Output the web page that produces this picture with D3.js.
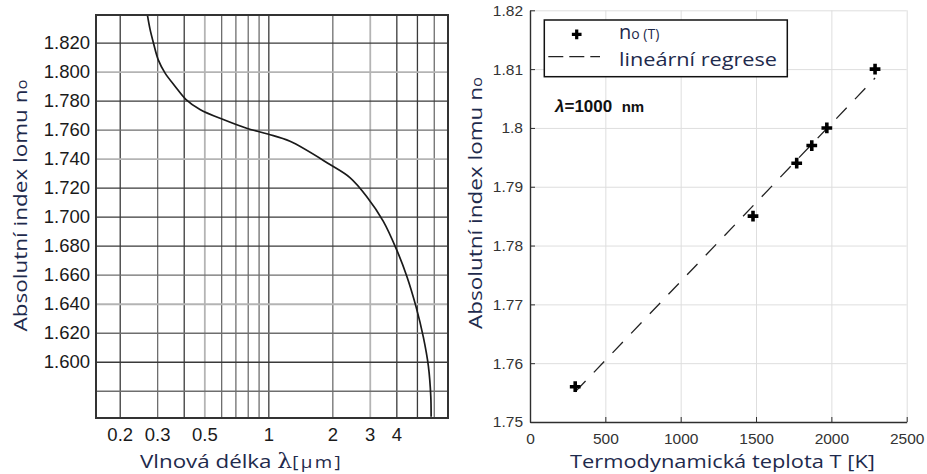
<!DOCTYPE html>
<html>
<head>
<meta charset="utf-8">
<script src="https://cdn.jsdelivr.net/npm/d3@7"></script>
<style>
  body { margin: 0; background: #fff; }
  svg { display: block; }
</style>
</head>
<body>
<svg id="chart" width="927" height="474"></svg>
<script>
// ---- Left panel: ordinary refractive index n_o versus wavelength ----
const wavelengthUm = [0.270, 0.278, 0.288, 0.304, 0.327, 0.364, 0.409, 0.477, 0.614, 0.791,
                      0.994, 1.265, 1.95, 2.42, 2.90, 3.47, 4.02, 4.48, 4.95, 5.36, 5.66, 5.81, 5.83];
const indexNo      = [1.839, 1.829, 1.820, 1.808, 1.799, 1.790, 1.781, 1.774, 1.767, 1.761,
                      1.757, 1.752, 1.736, 1.727, 1.714, 1.697, 1.677, 1.659, 1.638, 1.617, 1.597, 1.576, 1.562];
const wavelengthTicks = [0.2, 0.3, 0.5, 1, 2, 3, 4];
const wavelengthGrid  = [0.2, 0.3, 0.4, 0.5, 0.6, 0.7, 0.8, 0.9, 1, 2, 3, 4, 5, 6];
const indexTicks = [1.600, 1.620, 1.640, 1.660, 1.680, 1.700, 1.720, 1.740, 1.760, 1.780, 1.800, 1.820];
const indexGrid  = [1.580, 1.600, 1.620, 1.640, 1.660, 1.680, 1.700, 1.720, 1.740, 1.760, 1.780, 1.800, 1.820];

// ---- Right panel: n_o at 1000 nm versus temperature ----
const temperatureK = [300, 1480, 1770, 1870, 1970, 2290];
const indexAtT     = [1.756, 1.785, 1.794, 1.797, 1.800, 1.810];
const temperatureTicks = [0, 500, 1000, 1500, 2000, 2500];
const indexTTicks = [1.75, 1.76, 1.77, 1.78, 1.79, 1.80, 1.81, 1.82];

const svg = d3.select("#chart");
const titleColor = "#1e2a4c";
const tickFont = "'Liberation Sans', Arial, sans-serif";
const titleFont = "'Open Sans', 'Noto Sans', sans-serif";

// ================= LEFT PANEL =================
const L = { x0: 96, x1: 448, y0: 15, y1: 418 };
const xL = d3.scaleLog().domain([0.1547, 7.0]).range([L.x0, L.x1]);
const yL = d3.scaleLinear().domain([1.5612, 1.8391]).range([L.y1, L.y0]);

// grid line tones of the printed graph paper
const darkV = new Set([0.2, 0.4, 1, 4, 5]);
const lightV = new Set([0.5, 3]);
const darkH = new Set([1.82, 1.78, 1.72, 1.70, 1.68, 1.60]);
const lightH = new Set([1.80, 1.74, 1.64]);
function tone(isDark, isLight) {
  if (isDark) return { c: "#3a3a3a", w: 1.3 };
  if (isLight) return { c: "#b4b4b4", w: 1.8 };
  return { c: "#6e6e6e", w: 1.3 };
}

const left = svg.append("g");

const gridV = left.append("g")
  .attr("transform", `translate(0,${L.y1})`)
  .call(d3.axisBottom(xL).tickValues(wavelengthGrid).tickSize(-(L.y1 - L.y0)).tickFormat(""));
gridV.select(".domain").remove();
gridV.selectAll(".tick line").each(function (d) {
  const t = tone(darkV.has(d), lightV.has(d));
  d3.select(this).attr("stroke", t.c).attr("stroke-width", t.w);
});

const gridH = left.append("g")
  .attr("transform", `translate(${L.x0},0)`)
  .call(d3.axisLeft(yL).tickValues(indexGrid).tickSize(-(L.x1 - L.x0)).tickFormat(""));
gridH.select(".domain").remove();
gridH.selectAll(".tick line").each(function (d) {
  const k = Math.round(d * 100) / 100;
  const t = tone(darkH.has(k), lightH.has(k));
  d3.select(this).attr("stroke", t.c).attr("stroke-width", t.w);
});

// dispersion curve
left.append("clipPath").attr("id", "clipL")
  .append("rect").attr("x", L.x0).attr("y", L.y0).attr("width", L.x1 - L.x0).attr("height", L.y1 - L.y0);
const curvePts = wavelengthUm.map((w, i) => [w, indexNo[i]]);
left.append("path")
  .datum(curvePts)
  .attr("clip-path", "url(#clipL)")
  .attr("fill", "none")
  .attr("stroke", "#1a1a1a")
  .attr("stroke-width", 1.7)
  .attr("d", d3.line().x(d => xL(d[0])).y(d => yL(d[1])).curve(d3.curveCatmullRom.alpha(0.5)));

// frame
left.append("rect")
  .attr("x", L.x0).attr("y", L.y0).attr("width", L.x1 - L.x0).attr("height", L.y1 - L.y0)
  .attr("fill", "none").attr("stroke", "#333").attr("stroke-width", 2);

// tick labels
const xLab = left.append("g")
  .attr("transform", `translate(0,${L.y1})`)
  .call(d3.axisBottom(xL).tickValues(wavelengthTicks).tickSize(0).tickPadding(9.6).tickFormat(d => String(d)));
xLab.select(".domain").remove();
xLab.selectAll("text").attr("font-family", tickFont).attr("font-size", 18.5).attr("fill", "#1a1a1a");

const yLab = left.append("g")
  .attr("transform", `translate(${L.x0},0)`)
  .call(d3.axisLeft(yL).tickValues(indexTicks).tickSize(0).tickPadding(6).tickFormat(d3.format(".3f")));
yLab.select(".domain").remove();
yLab.selectAll("text").attr("font-family", tickFont).attr("font-size", 18.5).attr("fill", "#1a1a1a");

// axis titles
const xtL = left.append("text")
  .attr("x", 140).attr("y", 468)
  .attr("font-family", titleFont).attr("font-size", 19).attr("fill", titleColor)
  .attr("textLength", 203).attr("lengthAdjust", "spacingAndGlyphs");
xtL.append("tspan").text("Vlnová délka ");
xtL.append("tspan").attr("font-family", "'DejaVu Serif', serif").attr("font-size", 20).text("λ");
xtL.append("tspan").attr("font-size", 16).attr("letter-spacing", 2).text("[μm]");

function yTitle(g, x, cy) {
  const t = g.append("text")
    .attr("transform", `translate(${x},${cy}) rotate(-90)`)
    .attr("text-anchor", "middle")
    .attr("font-family", titleFont).attr("font-size", 19).attr("fill", titleColor)
    .attr("textLength", 252).attr("lengthAdjust", "spacingAndGlyphs");
  t.append("tspan").text("Absolutní index lomu n");
  t.append("tspan").attr("font-size", 14).text("o");
}
yTitle(left, 27, 205.5);

// ================= RIGHT PANEL =================
const R = { x0: 530, x1: 906.7, y0: 10.3, y1: 422 };
const xR = d3.scaleLinear().domain([0, 2500]).range([R.x0, R.x1]);
const yR = d3.scaleLinear().domain([1.75, 1.82]).range([R.y1, R.y0]);
const right = svg.append("g");

const gridX = right.append("g")
  .attr("transform", `translate(0,${R.y1})`)
  .call(d3.axisBottom(xR).tickValues(temperatureTicks.slice(1)).tickSize(-(R.y1 - R.y0)).tickFormat(""));
gridX.select(".domain").remove();
gridX.selectAll(".tick line").attr("stroke", "#dedede").attr("stroke-width", 1);

const gridY = right.append("g")
  .attr("transform", `translate(${R.x0},0)`)
  .call(d3.axisLeft(yR).tickValues(indexTTicks.slice(1)).tickSize(-(R.x1 - R.x0)).tickFormat(""));
gridY.select(".domain").remove();
gridY.selectAll(".tick line").attr("stroke", "#dedede").attr("stroke-width", 1);

// axes with inward ticks
const axX = right.append("g")
  .attr("transform", `translate(0,${R.y1})`)
  .call(d3.axisBottom(xR).tickValues(temperatureTicks).tickSizeInner(-5).tickSizeOuter(0).tickPadding(11).tickFormat(d3.format("d")));
const axY = right.append("g")
  .attr("transform", `translate(${R.x0},0)`)
  .call(d3.axisLeft(yR).tickValues(indexTTicks).tickSizeInner(-5).tickSizeOuter(0).tickPadding(7).tickFormat(d => String(+d.toFixed(2))));
[axX, axY].forEach(a => {
  a.select(".domain").attr("stroke", "#2e2e2e").attr("stroke-width", 1.4);
  a.selectAll(".tick line").attr("stroke", "#2e2e2e").attr("stroke-width", 1);
  a.selectAll("text").attr("font-family", tickFont).attr("font-size", 15.5).attr("fill", "#333");
});

// least-squares regression line through the measured points
const mT = d3.mean(temperatureK), mN = d3.mean(indexAtT);
const slope = d3.sum(temperatureK, (t, i) => (t - mT) * (indexAtT[i] - mN)) /
              d3.sum(temperatureK, t => (t - mT) * (t - mT));
const icpt = mN - slope * mT;
const tSpan = d3.extent(temperatureK);
right.append("path")
  .datum(tSpan.map(t => [t, icpt + slope * t]))
  .attr("fill", "none").attr("stroke", "#222").attr("stroke-width", 1.3)
  .attr("stroke-dasharray", "15,12")
  .attr("d", d3.line().x(d => xR(d[0])).y(d => yR(d[1])));

// measured points
const cross = d3.symbol().type(d3.symbolCross);
right.append("g").selectAll("path")
  .data(temperatureK.map((t, i) => [t, indexAtT[i]]))
  .join("path")
  .attr("transform", d => `translate(${xR(d[0])},${yR(d[1])})`)
  .attr("d", cross.size(64)())
  .attr("fill", "#000");

// legend
const lg = right.append("g");
lg.append("rect").attr("x", 544.3).attr("y", 20).attr("width", 243).attr("height", 56.7)
  .attr("fill", "#fff").attr("stroke", "#111").attr("stroke-width", 1.5);
lg.append("path").attr("transform", "translate(576.7,34.3)").attr("d", cross.size(52)()).attr("fill", "#000");
lg.append("line").attr("x1", 548.3).attr("x2", 600).attr("y1", 56.7).attr("y2", 56.7)
  .attr("stroke", "#222").attr("stroke-width", 1.3).attr("stroke-dasharray", "15,6");
const l1 = lg.append("text").attr("x", 619).attr("y", 38.5)
  .attr("font-family", titleFont).attr("fill", titleColor);
l1.append("tspan").attr("font-size", 20).text("n");
l1.append("tspan").attr("font-size", 14).text("o (T)");
lg.append("text").attr("x", 619).attr("y", 65.5)
  .attr("font-family", titleFont).attr("font-size", 19).attr("fill", titleColor)
  .attr("textLength", 158).attr("lengthAdjust", "spacingAndGlyphs")
  .text("lineární regrese");

// wavelength note
const note = right.append("text").attr("x", 555).attr("y", 111.7)
  .attr("font-family", tickFont).attr("font-weight", "bold").attr("fill", "#111");
note.append("tspan").attr("font-size", 17).attr("font-style", "italic").text("λ");
note.append("tspan").attr("font-size", 17).text("=1000");
note.append("tspan").attr("x", 621.7).attr("font-size", 15).text("nm");

// axis titles
right.append("text")
  .attr("x", 722.5).attr("y", 468).attr("text-anchor", "middle")
  .attr("font-family", titleFont).attr("font-size", 19).attr("fill", titleColor)
  .attr("textLength", 305).attr("lengthAdjust", "spacingAndGlyphs")
  .text("Termodynamická teplota T [K]");
yTitle(right, 482, 203);
</script>
</body>
</html>
